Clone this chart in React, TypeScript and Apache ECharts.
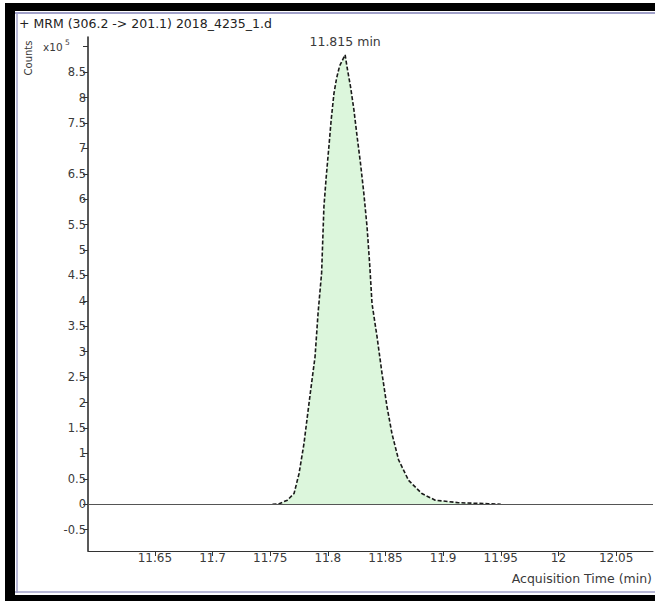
import React, { useEffect, useRef } from "react";
import * as echarts from "echarts";

// Acquisition time (min)
const times = [
  11.752, 11.7578, 11.7649, 11.7707, 11.775, 11.7793, 11.7822, 11.7851, 11.7889,
  11.7915, 11.7946, 11.7966, 11.7986, 11.8009, 11.8029, 11.8053, 11.8076,
  11.8102, 11.815, 11.8168, 11.8197, 11.8226, 11.8254, 11.8283, 11.8312,
  11.834, 11.8364, 11.8383, 11.8427, 11.847, 11.8513, 11.8556, 11.8614,
  11.87, 11.8815, 11.8931, 11.9132, 11.9391, 11.95,
];
// Counts (x10^5)
const counts = [
  0, 0.01, 0.08, 0.21, 0.6, 1.19, 1.72, 2.24, 2.9,
  3.75, 4.55, 5.85, 6.44, 7.03, 7.56, 8.08, 8.38,
  8.62, 8.84, 8.58, 8.21, 7.76, 7.23, 6.71, 6.12,
  5.46, 4.68, 3.95, 3.29, 2.57, 1.92, 1.39, 0.87,
  0.47, 0.21, 0.08, 0.03, 0.01, 0,
];
const xTicks = [11.65, 11.7, 11.75, 11.8, 11.85, 11.9, 11.95, 12, 12.05];
const yTicks = [-0.5, 0, 0.5, 1, 1.5, 2, 2.5, 3, 3.5, 4, 4.5, 5, 5.5, 6, 6.5, 7, 7.5, 8, 8.5, 9];
const titleText = "+ MRM (306.2 -> 201.1) 2018_4235_1.d";
const peakLabel = "11.815 min";
const xName = "Acquisition Time (min)";
const yName = "Counts";

const FONT = "DejaVu Sans";
const TXT = "#3a3a3a";

export default function App() {
  const ref = useRef<HTMLDivElement>(null);
  useEffect(() => {
    if (!ref.current) return;
    const chart = echarts.init(ref.current, null, { renderer: "svg" });
    const peakIdx = counts.indexOf(Math.max(...counts));
    const data = times.map((t, i) => [t, counts[i]]);
    chart.setOption({
      animation: false,
      backgroundColor: "#ffffff",
      textStyle: { fontFamily: FONT },
      grid: { left: 88, right: 0, top: 37, height: 514 },
      xAxis: {
        type: "value",
        min: 11.592,
        max: 12.082,
        name: xName,
        nameLocation: "end",
        nameGap: 0,
        nameTextStyle: {
          fontFamily: FONT,
          fontSize: 12.5,
          color: TXT,
          align: "right",
          verticalAlign: "top",
          padding: [21, 1, 0, 0],
        },
        axisLine: { show: true, onZero: false, lineStyle: { color: "#333", width: 1 } },
        axisTick: {
          show: true,
          length: 5,
          customValues: xTicks,
          lineStyle: { color: "#333" },
        },
        axisLabel: {
          customValues: xTicks,
          margin: 1,
          fontFamily: FONT,
          fontSize: 12,
          color: TXT,
          formatter: (v: number) => String(parseFloat(v.toFixed(2))),
        },
        splitLine: { show: false },
      },
      yAxis: {
        type: "value",
        min: -0.92,
        max: 9.19,
        axisLine: { show: true, onZero: false, lineStyle: { color: "#222", width: 1.5 } },
        axisTick: {
          show: true,
          length: 5,
          customValues: yTicks,
          lineStyle: { color: "#333" },
        },
        axisLabel: {
          customValues: yTicks,
          margin: 2,
          fontFamily: FONT,
          fontSize: 11.5,
          color: TXT,
          formatter: (v: number) =>
            Math.abs(v - 9) < 1e-6 ? "" : String(parseFloat(v.toFixed(1))),
        },
        splitLine: { show: false },
      },
      series: [
        {
          type: "line",
          data,
          showSymbol: false,
          symbol: "none",
          smooth: false,
          lineStyle: { color: "#1a1a1a", width: 1.6, type: [4, 2] },
          areaStyle: { color: "#dcf6dc", opacity: 1 },
          markLine: {
            silent: true,
            symbol: "none",
            label: { show: false },
            lineStyle: { color: "#555", width: 1, type: "solid" },
            data: [{ yAxis: 0 }],
          },
          markPoint: {
            silent: true,
            symbol: "circle",
            symbolSize: 1,
            itemStyle: { color: "rgba(0,0,0,0)" },
            label: {
              show: true,
              position: "top",
              distance: 6,
              formatter: peakLabel,
              fontFamily: FONT,
              fontSize: 12.5,
              color: TXT,
            },
            data: [{ coord: [times[peakIdx], counts[peakIdx]] }],
          },
          z: 3,
        },
      ],
      graphic: [
        { type: "rect", shape: { x: 5, y: 3, width: 650, height: 8 }, style: { fill: "#000" } },
        { type: "rect", shape: { x: 5, y: 3, width: 10, height: 598 }, style: { fill: "#000" } },
        { type: "rect", shape: { x: 5, y: 595, width: 650, height: 6 }, style: { fill: "#000" } },
        { type: "line", shape: { x1: 15, y1: 13, x2: 655, y2: 13 }, style: { stroke: "#a0a0c8", lineWidth: 2 } },
        { type: "line", shape: { x1: 17, y1: 12, x2: 17, y2: 593 }, style: { stroke: "#a0a0c8", lineWidth: 1.5 } },
        { type: "line", shape: { x1: 15, y1: 592, x2: 655, y2: 592 }, style: { stroke: "#a0a0c8", lineWidth: 1.5 } },
        {
          type: "text",
          x: 19,
          y: 23,
          style: {
            text: titleText,
            fontFamily: FONT,
            fontSize: 12.5,
            fill: "#222",
            verticalAlign: "middle",
          },
        },
        {
          type: "text",
          x: 28,
          y: 58,
          rotation: Math.PI / 2,
          style: {
            text: yName,
            fontFamily: FONT,
            fontSize: 10,
            fill: TXT,
            align: "center",
            verticalAlign: "middle",
          },
        },
        {
          type: "text",
          x: 43,
          y: 47,
          style: {
            text: "x10",
            fontFamily: FONT,
            fontSize: 10.5,
            fill: TXT,
            verticalAlign: "middle",
          },
        },
        {
          type: "text",
          x: 65,
          y: 42,
          style: {
            text: "5",
            fontFamily: FONT,
            fontSize: 7.5,
            fill: TXT,
            verticalAlign: "middle",
          },
        },
      ],
    });
    return () => chart.dispose();
  }, []);
  return (
    <div
      ref={ref}
      style={{ position: "fixed", left: 0, top: 0, width: 655, height: 601 }}
    />
  );
}
